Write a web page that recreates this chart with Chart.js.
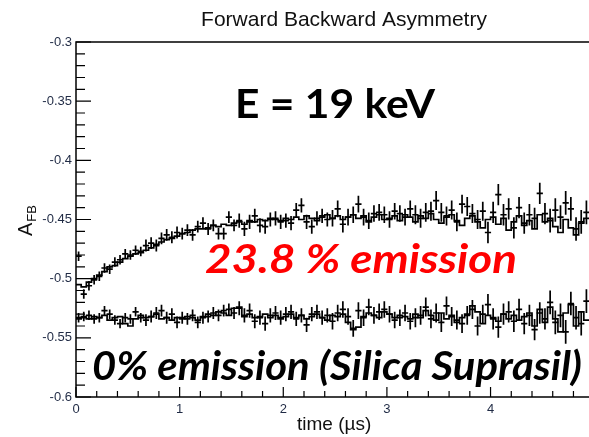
<!DOCTYPE html>
<html>
<head>
<meta charset="utf-8">
<script src="https://cdn.jsdelivr.net/npm/chart.js@4.4.0/dist/chart.umd.min.js"></script>
<style>
    html, body { margin: 0; padding: 0; background: #fff; overflow: hidden; }
    canvas { display: block; }
</style>
</head>
<body>
<canvas id="chart01" width="589" height="437"></canvas>
<script>
// bins of 0.05 us, starting at t = 0
const BIN_WIDTH = 0.05;

// 23.8 % emission: measured points (crosses) and histogram (steps)
const emissionPts = [
    -0.481, -0.513, -0.506, -0.501, -0.498, -0.491, -0.492, -0.486, -0.484, -0.479,
    -0.480, -0.476, -0.477, -0.472, -0.470, -0.472, -0.466, -0.463, -0.465, -0.461,
    -0.462, -0.459, -0.463, -0.456, -0.453, -0.458, -0.455, -0.462, -0.462, -0.448,
    -0.455, -0.451, -0.458, -0.452, -0.447, -0.455, -0.456, -0.450, -0.449, -0.452,
    -0.451, -0.453, -0.442, -0.438, -0.452, -0.456, -0.449, -0.447, -0.450, -0.449,
    -0.441, -0.454, -0.448, -0.446, -0.437, -0.448, -0.451, -0.445, -0.444, -0.446,
    -0.450, -0.443, -0.445, -0.448, -0.441, -0.446, -0.449, -0.444, -0.443, -0.434,
    -0.444, -0.447, -0.442, -0.452, -0.437, -0.439, -0.445, -0.450, -0.443, -0.461,
    -0.444, -0.429, -0.446, -0.441, -0.457, -0.440, -0.453, -0.446, -0.449, -0.428,
    -0.445, -0.451, -0.442, -0.448, -0.436, -0.441, -0.458, -0.452, -0.444
];
const emissionHist = [
    -0.505, -0.507, -0.503, -0.500, -0.497, -0.494, -0.490, -0.489, -0.486, -0.483,
    -0.481, -0.479, -0.478, -0.476, -0.474, -0.471, -0.469, -0.467, -0.466, -0.464,
    -0.462, -0.461, -0.459, -0.458, -0.458, -0.457, -0.455, -0.456, -0.454, -0.455,
    -0.453, -0.452, -0.454, -0.451, -0.452, -0.450, -0.451, -0.449, -0.450, -0.451,
    -0.449, -0.450, -0.448, -0.450, -0.447, -0.449, -0.451, -0.448, -0.446, -0.449,
    -0.447, -0.450, -0.448, -0.446, -0.449, -0.447, -0.452, -0.448, -0.446, -0.450,
    -0.449, -0.447, -0.451, -0.446, -0.448, -0.452, -0.447, -0.449, -0.445, -0.450,
    -0.453, -0.448, -0.446, -0.451, -0.455, -0.449, -0.447, -0.452, -0.457, -0.450,
    -0.448, -0.454, -0.449, -0.459, -0.452, -0.447, -0.455, -0.451, -0.458, -0.446,
    -0.452, -0.449, -0.456, -0.461, -0.450, -0.457, -0.463, -0.453, -0.449
];

// 0 % emission (Silica Suprasil)
const silicaPts = [
    -0.533, -0.532, -0.531, -0.534, -0.533, -0.527, -0.530, -0.535, -0.538, -0.533,
    -0.534, -0.528, -0.533, -0.535, -0.532, -0.529, -0.527, -0.533, -0.530, -0.537,
    -0.533, -0.534, -0.531, -0.537, -0.533, -0.532, -0.529, -0.531, -0.527, -0.526,
    -0.529, -0.525, -0.531, -0.527, -0.536, -0.533, -0.538, -0.531, -0.529, -0.533,
    -0.530, -0.528, -0.534, -0.531, -0.539, -0.530, -0.528, -0.533, -0.531, -0.536,
    -0.529, -0.526, -0.532, -0.542, -0.527, -0.533, -0.524, -0.531, -0.528, -0.526,
    -0.530, -0.535, -0.533, -0.529, -0.536, -0.533, -0.531, -0.524, -0.534, -0.529,
    -0.537, -0.523, -0.532, -0.535, -0.538, -0.531, -0.526, -0.540, -0.530, -0.522,
    -0.534, -0.541, -0.530, -0.528, -0.536, -0.526, -0.538, -0.531, -0.543, -0.529,
    -0.534, -0.520, -0.537, -0.531, -0.545, -0.521, -0.533, -0.538, -0.519
];
const silicaHist = [
    -0.534, -0.533, -0.534, -0.532, -0.533, -0.531, -0.535, -0.533, -0.532, -0.538,
    -0.540, -0.534, -0.531, -0.533, -0.532, -0.530, -0.534, -0.533, -0.535, -0.533,
    -0.534, -0.532, -0.533, -0.535, -0.532, -0.530, -0.531, -0.528, -0.529, -0.531,
    -0.525, -0.524, -0.532, -0.530, -0.533, -0.532, -0.530, -0.533, -0.531, -0.534,
    -0.532, -0.530, -0.533, -0.531, -0.534, -0.532, -0.530, -0.533, -0.535, -0.531,
    -0.532, -0.530, -0.537, -0.543, -0.541, -0.532, -0.529, -0.531, -0.533, -0.528,
    -0.530, -0.533, -0.531, -0.532, -0.534, -0.530, -0.533, -0.527, -0.531, -0.535,
    -0.529, -0.534, -0.531, -0.537, -0.533, -0.530, -0.523, -0.528, -0.538, -0.531,
    -0.533, -0.536, -0.530, -0.534, -0.531, -0.535, -0.532, -0.529, -0.540, -0.526,
    -0.537, -0.524, -0.534, -0.545, -0.529, -0.522, -0.540, -0.528, -0.535
];

// statistical error per bin (same for both samples)
const binErrors = [
    0.004, 0.004, 0.004, 0.004, 0.004, 0.004, 0.004, 0.004, 0.004, 0.004,
    0.004, 0.004, 0.004, 0.005, 0.005, 0.005, 0.005, 0.005, 0.005, 0.005,
    0.005, 0.005, 0.005, 0.005, 0.005, 0.005, 0.005, 0.005, 0.005, 0.005,
    0.005, 0.006, 0.006, 0.006, 0.006, 0.006, 0.006, 0.006, 0.006, 0.006,
    0.006, 0.006, 0.006, 0.006, 0.006, 0.006, 0.006, 0.006, 0.006, 0.007,
    0.007, 0.007, 0.007, 0.007, 0.007, 0.007, 0.007, 0.007, 0.007, 0.007,
    0.007, 0.007, 0.007, 0.007, 0.007, 0.008, 0.008, 0.008, 0.008, 0.008,
    0.008, 0.008, 0.008, 0.008, 0.008, 0.008, 0.008, 0.008, 0.008, 0.009,
    0.009, 0.009, 0.009, 0.009, 0.009, 0.009, 0.009, 0.009, 0.009, 0.009,
    0.009, 0.010, 0.010, 0.010, 0.010, 0.010, 0.010, 0.010, 0.010
];

const xTickLabels = [0, 1, 2, 3, 4];
const yTickLabels = [-0.6, -0.55, -0.5, -0.45, -0.4, -0.35, -0.3];

const X_MAX = 4.95;
const Y_MIN = -0.6;
const Y_MAX = -0.3;

// points at the bin centres
function toPoints(values) {
    return values.map((v, i) => ({ x: (i + 0.5) * BIN_WIDTH, y: v }));
}

// histogram outline: one point per lower bin edge + closing edge
function toSteps(values) {
    const pts = values.map((v, i) => ({ x: i * BIN_WIDTH, y: v }));
    pts.push({ x: values.length * BIN_WIDTH, y: values[values.length - 1] });
    return pts;
}

const stepStyle = {
    type: 'line',
    stepped: true,
    borderColor: '#000',
    borderWidth: 1.7,
    pointRadius: 0,
    fill: false
};
const crossStyle = {
    type: 'scatter',
    pointRadius: 0,
    showLine: false,
    errors: binErrors
};

// error bar crosses: bin width horizontally, +-error vertically
const crossPlugin = {
    id: 'crosses',
    afterDatasetsDraw(chart) {
        const ctx = chart.ctx;
        const xs = chart.scales.x;
        const ys = chart.scales.y;
        const area = chart.chartArea;
        ctx.save();
        ctx.beginPath();
        ctx.rect(area.left, area.top, area.right - area.left, area.bottom - area.top);
        ctx.clip();
        ctx.strokeStyle = '#000';
        ctx.lineWidth = 1.7;
        chart.data.datasets.forEach(ds => {
            if (!ds.errors) return;
            ds.data.forEach((p, i) => {
                const e = ds.errors[i];
                const x0 = xs.getPixelForValue(p.x - BIN_WIDTH * 0.6);
                const x1 = xs.getPixelForValue(p.x + BIN_WIDTH * 0.6);
                const xc = xs.getPixelForValue(p.x);
                const yc = ys.getPixelForValue(p.y);
                ctx.beginPath();
                ctx.moveTo(x0, yc);
                ctx.lineTo(x1, yc);
                ctx.moveTo(xc, ys.getPixelForValue(p.y - e));
                ctx.lineTo(xc, ys.getPixelForValue(p.y + e));
                ctx.stroke();
            });
        });
        ctx.restore();
    }
};

// text squeezed or stretched to a given width
function fitText(ctx, text, x, y, width) {
    const w = ctx.measureText(text).width;
    ctx.save();
    ctx.translate(x, y);
    ctx.scale(width / w, 1);
    ctx.fillText(text, 0, 0);
    ctx.restore();
}

// frame, inner tick marks and all the text
const framePlugin = {
    id: 'frame',
    afterDraw(chart) {
        const ctx = chart.ctx;
        const xs = chart.scales.x;
        const ys = chart.scales.y;
        const a = chart.chartArea;
        ctx.save();
        ctx.strokeStyle = '#000';
        ctx.lineWidth = 1.5;
        ctx.beginPath();
        ctx.moveTo(a.right, a.top);
        ctx.lineTo(a.left, a.top);
        ctx.lineTo(a.left, a.bottom);
        ctx.lineTo(a.right, a.bottom);
        ctx.stroke();

        ctx.lineWidth = 1.2;
        ctx.beginPath();
        for (let k = 0; k <= 30; k++) {
            const y = ys.getPixelForValue(Y_MIN + k * 0.01);
            const len = k % 5 === 0 ? 15 : 9;
            ctx.moveTo(a.left, y);
            ctx.lineTo(a.left + len, y);
        }
        for (let k = 0; k * 0.2 <= X_MAX; k++) {
            const x = xs.getPixelForValue(k * 0.2);
            const len = k % 5 === 0 ? 10 : 6;
            ctx.moveTo(x, a.bottom);
            ctx.lineTo(x, a.bottom - len);
        }
        ctx.stroke();

        // titles
        ctx.fillStyle = '#111';
        ctx.textAlign = 'center';
        ctx.textBaseline = 'alphabetic';
        ctx.font = '21px "Liberation Sans", Arial, sans-serif';
        ctx.fillText('Forward Backward Asymmetry', 344, 26);

        ctx.textAlign = 'left';
        ctx.font = '19px "Liberation Sans", Arial, sans-serif';
        ctx.fillText('time (\u00b5s)', 297, 430);

        ctx.save();
        ctx.translate(32, 236);
        ctx.rotate(-Math.PI / 2);
        ctx.font = '20px "Liberation Sans", Arial, sans-serif';
        ctx.fillText('A', 0, 0);
        const aw = ctx.measureText('A').width;
        ctx.font = '13px "Liberation Sans", Arial, sans-serif';
        ctx.fillText('FB', aw + 1, 4);
        ctx.restore();

        // annotations
        ctx.fillStyle = '#000';
        ctx.font = 'bold 40px Lato, "Open Sans", sans-serif';
        fitText(ctx, 'E = 19 keV', 235, 118, 200);

        ctx.fillStyle = '#ff0000';
        ctx.font = 'italic bold 40px Lato, "Open Sans", sans-serif';
        fitText(ctx, '23.8 % emission', 205, 273, 312);

        ctx.fillStyle = '#000';
        fitText(ctx, '0% emission (Silica Suprasil)', 92, 380, 490);
        ctx.restore();
    }
};

new Chart(document.getElementById('chart01'), {
    data: {
        datasets: [
            Object.assign({ data: toSteps(emissionHist) }, stepStyle),
            Object.assign({ data: toSteps(silicaHist) }, stepStyle),
            Object.assign({ data: toPoints(emissionPts) }, crossStyle),
            Object.assign({ data: toPoints(silicaPts) }, crossStyle)
        ]
    },
    options: {
        responsive: false,
        animation: false,
        events: [],
        layout: { padding: { top: 42, left: 0, right: 0, bottom: 0 } },
        plugins: {
            legend: { display: false },
            tooltip: { enabled: false }
        },
        scales: {
            x: {
                type: 'linear',
                min: 0,
                max: X_MAX,
                grid: { display: false, drawTicks: false },
                border: { display: false },
                afterBuildTicks: s => { s.ticks = xTickLabels.map(v => ({ value: v })); },
                afterFit: s => { s.height = 40; },
                ticks: {
                    padding: 5,
                    color: '#1f2a44',
                    font: { family: '"Liberation Sans", Arial, sans-serif', size: 13 },
                    callback: v => String(v)
                }
            },
            y: {
                type: 'linear',
                min: Y_MIN,
                max: Y_MAX,
                grid: { display: false, drawTicks: false },
                border: { display: false },
                afterBuildTicks: s => { s.ticks = yTickLabels.map(v => ({ value: v })); },
                afterFit: s => { s.width = 76; },
                ticks: {
                    padding: 4,
                    color: '#1f2a44',
                    font: { family: '"Liberation Sans", Arial, sans-serif', size: 13 },
                    callback: v => String(Number(v.toFixed(2)))
                }
            }
        }
    },
    plugins: [crossPlugin, framePlugin]
});
</script>
</body>
</html>
